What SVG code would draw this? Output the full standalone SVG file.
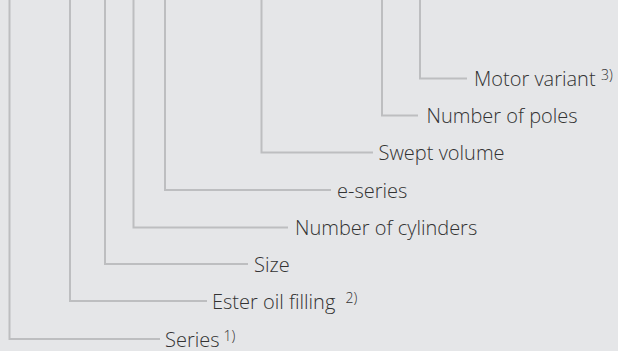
<svg xmlns="http://www.w3.org/2000/svg" width="618" height="351" viewBox="0 0 618 351">
<style>
.bg{fill:#e5e6e8}
.c{fill:none;stroke:#bdbec0;stroke-width:2}
text{font-family:"Open Sans","Noto Sans","Liberation Sans",sans-serif;font-size:20px;font-weight:350;fill:#333333}
.sup{font-size:14px}
</style>
<rect class="bg" x="0" y="0" width="618" height="351"/>
<g id="connectors">
<polyline class="c" points="420,0 420,78.5 467,78.5"/>
<polyline class="c" points="382,0 382,115.5 418,115.5"/>
<polyline class="c" points="261.5,0 261.5,152.5 373,152.5"/>
<polyline class="c" points="165,0 165,190 331,190"/>
<polyline class="c" points="133.5,0 133.5,227.5 288,227.5"/>
<polyline class="c" points="105,0 105,264 248,264"/>
<polyline class="c" points="70,0 70,301 207,301"/>
<polyline class="c" points="9.5,0 9.5,339 160,339"/>
</g>
<g id="motor-variant"><text x="474" y="86">Motor variant<tspan class="sup" x="601" dy="-6">3)</tspan></text></g>
<g id="number-of-poles"><text x="426.5" y="123">Number of poles</text></g>
<g id="swept-volume"><text x="378.5" y="160">Swept volume</text></g>
<g id="e-series"><text x="337" y="197.5">e-series</text></g>
<g id="number-of-cylinders"><text x="295" y="235">Number of cylinders</text></g>
<g id="size"><text x="254" y="271.5">Size</text></g>
<g id="ester-oil-filling"><text x="212" y="308.5">Ester oil filling<tspan class="sup" x="345.5" dy="-6">2)</tspan></text></g>
<g id="series"><text x="165" y="346.5">Series<tspan class="sup" x="223.5" dy="-6">1)</tspan></text></g>
</svg>
